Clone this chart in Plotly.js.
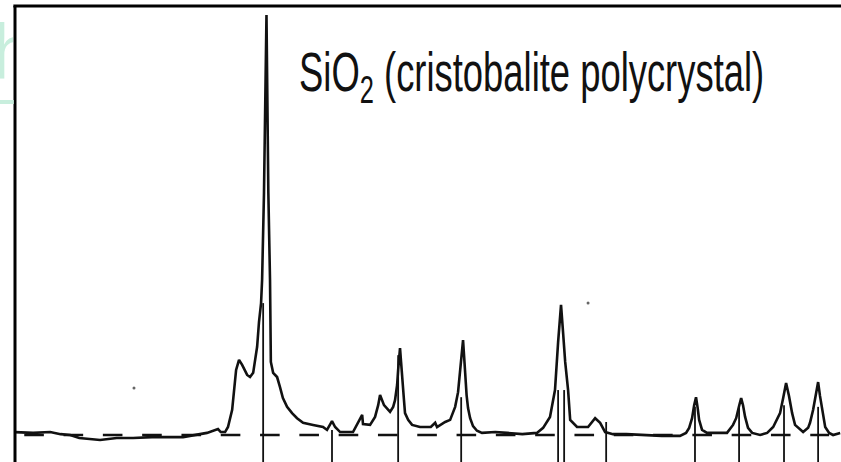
<!DOCTYPE html>
<html>
<head>
<meta charset="utf-8">
<script src="https://cdn.plot.ly/plotly-3.0.1.min.js"></script>
<style>
  html, body { margin: 0; padding: 0; background: #fff; }
  #chart { width: 841px; height: 462px; }
</style>
</head>
<body>
<div id="chart"></div>
<script>
// Diffraction trace: 2-theta (deg) and relative intensity (%)
const twoTheta = [
  9.82, 10.78, 11.60, 12.10, 12.56, 13.00, 14.00, 14.80, 15.59, 16.50,
  17.99, 18.60, 19.14, 19.67, 19.80, 20.01, 20.15, 20.35, 20.44, 20.54,
  20.68, 20.83, 21.07, 21.21, 21.36, 21.55, 21.64, 21.74, 21.79, 21.88,
  22.00, 22.09, 22.17, 22.21, 22.32, 22.51, 22.65, 22.79, 22.99, 23.23,
  23.47, 23.76, 24.24, 24.72, 24.91, 25.15, 25.30, 25.54, 26.16, 26.40,
  26.60, 26.64, 26.98, 27.22, 27.37, 27.46, 27.56, 27.65, 27.94, 28.09,
  28.18, 28.28, 28.33, 28.37, 28.42, 28.47, 28.52, 28.61, 28.66, 28.81,
  29.00, 29.38, 29.90, 30.11, 30.20, 30.35, 30.59, 30.83, 31.07, 31.21,
  31.31, 31.38, 31.45, 31.50, 31.55, 31.62, 31.69, 31.79, 31.93, 32.12,
  32.36, 33.00, 33.57, 34.30, 35.00, 35.30, 35.63, 35.87, 36.02, 36.16,
  36.26, 36.36, 36.50, 36.60, 36.93, 37.46, 37.80, 38.04, 38.28, 38.66,
  39.30, 39.96, 41.00, 41.88, 42.17, 42.32, 42.46, 42.56, 42.65, 42.73,
  42.80, 42.94, 43.18, 43.47, 44.14, 44.43, 44.58, 44.72, 44.82, 44.91,
  45.01, 45.15, 45.35, 45.73, 46.07, 46.36, 46.55, 46.69, 46.84, 46.98,
  47.12, 47.27, 47.41, 47.80, 48.04, 48.13, 48.28, 48.42, 48.52, 48.61,
  48.71, 48.86, 49.05, 49.24, 49.58
];
const intensity = [
  0.7, 0.5, 0.7, 0.2, 0.0, -0.7, -1.2, -0.7, -0.7, -0.5,
  -0.5, 0.0, 0.5, 1.4, 0.7, 0.7, 1.9, 6.0, 11.4, 15.5,
  17.9, 16.7, 14.3, 13.8, 14.8, 21.0, 26.9, 31.4, 37.0, 57.6,
  100.0, 57.6, 36.9, 17.4, 14.8, 13.8, 11.4, 8.8, 6.7, 5.2,
  4.0, 2.9, 2.4, 1.9, 1.2, 3.3, 1.9, 0.7, 0.7, 2.9,
  4.8, 2.6, 2.4, 4.3, 7.1, 9.5, 8.3, 7.1, 5.5, 6.7,
  8.3, 11.9, 15.5, 18.3, 20.7, 17.4, 13.1, 8.3, 5.2, 3.6,
  2.4, 1.9, 1.9, 2.9, 1.9, 2.4, 3.1, 3.6, 6.7, 10.2,
  15.0, 19.0, 22.6, 18.8, 13.8, 9.5, 6.4, 4.0, 2.1, 1.0,
  0.5, 0.7, 0.5, 0.2, 0.5, 1.7, 4.3, 10.7, 22.1, 31.0,
  24.3, 17.4, 10.7, 3.6, 1.9, 1.9, 4.0, 2.9, 0.7, 0.2,
  0.2, 0.0, -0.2, -0.2, 0.5, 1.7, 4.0, 7.1, 9.0, 6.4,
  3.6, 1.2, 0.5, 0.5, 0.5, 2.4, 4.0, 6.9, 8.8, 7.1,
  4.3, 1.7, 0.5, 0.0, 0.5, 1.9, 3.6, 5.2, 8.8, 12.4,
  9.3, 5.2, 2.4, 0.7, 1.7, 2.9, 6.0, 9.5, 12.6, 9.3,
  6.0, 1.9, 0.5, 0.0, 0.5
];
// Reference line positions (deg) and the height each marker line reaches (%)
const refPos = [21.84, 25.15, 28.33, 31.36, 36.02, 36.31, 38.33, 42.60, 44.72, 46.88, 48.52];
const refTop = [31.4, 1.2, 19.0, 9.0, 10.7, 10.7, 3.1, 6.7, 6.4, 7.1, 6.7];
const refBottom = -7;
// Dashed baseline
const baseX = [10.355, 49.05];
const baseY = [0, 0];
// Scan specks
const speckX = [15.63, 37.46];
const speckY = [11.2, 31.4];
// Texts
const labelText = 'SiO<sub>2</sub> (cristobalite polycrystal)';
const watermarkText = 'h';

const stickX = [], stickY = [];
refPos.forEach((p, i) => { stickX.push(p, p, null); stickY.push(refBottom, refTop[i], null); });

const traces = [
  { x: baseX, y: baseY, type: 'scatter', mode: 'lines',
    line: { color: '#111', width: 2.3, dash: '19.6px,19.7px' }, hoverinfo: 'skip' },
  { x: stickX, y: stickY, type: 'scatter', mode: 'lines',
    line: { color: '#111', width: 1.8 }, hoverinfo: 'skip' },
  { x: twoTheta, y: intensity, type: 'scatter', mode: 'lines',
    line: { color: '#111', width: 2.6 } },
  { x: speckX, y: speckY, type: 'scatter', mode: 'markers',
    marker: { color: '#666', size: 3 } }
];

const FONT = 'Liberation Sans, Arial, sans-serif';
const LABEL_SIZE = 35;

const layout = {
  width: 841, height: 462,
  margin: { l: 15, r: 0, t: 6, b: 0, pad: 0 },
  paper_bgcolor: '#fff', plot_bgcolor: '#fff',
  showlegend: false,
  xaxis: { range: [9.91, 49.62], visible: false, fixedrange: true },
  yaxis: { range: [-6.43, 102.14], visible: false, fixedrange: true },
  shapes: [
    { type: 'line', xref: 'paper', yref: 'paper', x0: -0.002, x1: 1.01, y0: 1, y1: 1,
      line: { color: '#000', width: 3 } },
    { type: 'line', xref: 'paper', yref: 'paper', x0: 0, x1: 0, y0: -0.01, y1: 1,
      line: { color: '#000', width: 3 } },
    { type: 'line', xref: 'paper', yref: 'paper', x0: -0.0182, x1: -0.0015, y0: 0.7895, y1: 0.7895,
      line: { color: '#c8eedd', width: 4 } }
  ],
  annotations: [
    { text: labelText, xref: 'paper', yref: 'paper', x: 0.3414, y: 0.8882,
      xanchor: 'left', yanchor: 'top', showarrow: false,
      font: { family: FONT, size: LABEL_SIZE, color: '#111' } },
    { text: watermarkText, xref: 'paper', yref: 'paper', x: 0, y: 1.0,
      xanchor: 'right', yanchor: 'top', showarrow: false, width: 21, align: 'left',
      font: { family: FONT, size: 78, color: '#c8eedd' } }
  ]
};

Plotly.newPlot('chart', traces, layout, { staticPlot: true, displayModeBar: false }).then(gd => {
  // The reference lettering is tall and narrow: stretch the label about its baseline.
  const t = gd.querySelector('.annotation[data-index="0"] .annotation-text');
  if (t) {
    const bb = t.getBBox();
    const bx = bb.x, by = bb.y + 0.905 * LABEL_SIZE;
    t.setAttribute('transform',
      'translate(' + bx + ',' + by + ') scale(1.04,1.58) translate(' + (-bx) + ',' + (-by) + ')');
  }
});
</script>
</body>
</html>
